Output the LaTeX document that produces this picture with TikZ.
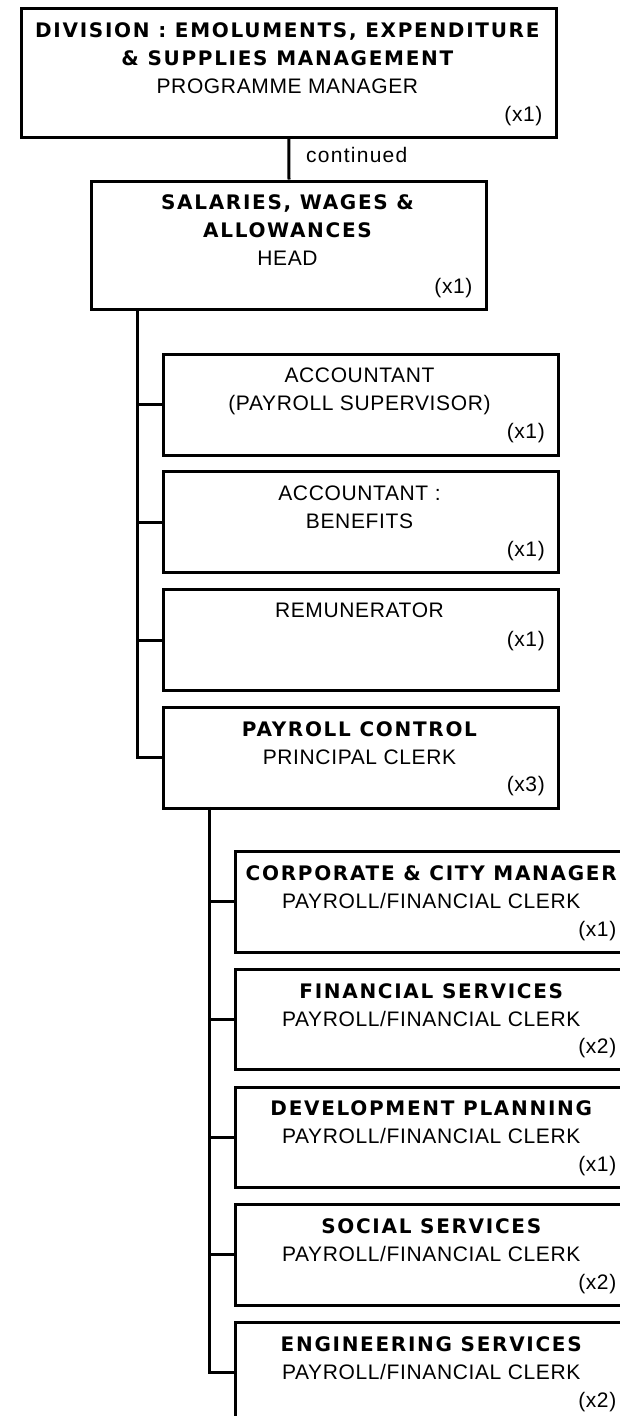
\documentclass[tikz,border=0pt]{standalone}
\usepackage{fontspec}
\setmainfont{Liberation Sans}[LetterSpace=3]
\newfontfamily\hdfont{DejaVu Sans}[LetterSpace=8.5]
\newcommand{\hd}[1]{{\fontsize{20}{28}\hdfont\bfseries #1}}
\begin{document}
\begin{tikzpicture}[x=1pt,y=-1pt,
  box/.style={draw, line width=3pt, inner sep=0pt, anchor=north west, line join=miter},
  topbox/.style={box, minimum width=534.7pt, minimum height=128.5pt},
  secbox/.style={box, minimum width=394.4pt, minimum height=128.8pt},
  ubox/.style={box, minimum width=395pt, minimum height=101pt},
  lbox/.style={box, minimum width=394.5pt, minimum height=100.3pt},
  txt/.style={inner sep=0pt, align=center, anchor=north, font=\fontsize{21}{28}\selectfont},
  cnt/.style={inner sep=0pt, anchor=base east, font=\fontsize{21}{28}\selectfont},
  conn/.style={line width=3pt, line join=miter},
]
\useasboundingbox (0,0) rectangle (620,1416);

% top
\node[topbox] (top) at (20,7.3) {};
\node[txt] (top-t) at (287.35,22.5) {\hd{DIVISION : EMOLUMENTS, EXPENDITURE}\\\hd{\& SUPPLIES MANAGEMENT}\\PROGRAMME MANAGER};
\node[cnt] (top-c) at (542.7,121.3) {(x1)};

\node[inner sep=0pt, anchor=base west, font=\fontsize{21}{28}\selectfont\addfontfeatures{LetterSpace=6}] (cont) at (306,162) {continued};

% second
\node[secbox] (sal) at (90.3,179.5) {};
\node[txt] (sal-t) at (287.5,194.8) {\hd{SALARIES, WAGES \&}\\\hd{ALLOWANCES}\\HEAD};
\node[cnt] (sal-c) at (472.7,293.5) {(x1)};

% upper column
\node[ubox] (acc1) at (162,352.7) {};
\node[txt] (acc1-t) at (359.5,367.8) {ACCOUNTANT\\(PAYROLL SUPERVISOR)};
\node[cnt] (acc1-c) at (545,438.7) {(x1)};

\node[ubox] (acc2) at (162,470.3) {};
\node[txt] (acc2-t) at (359.5,485.4) {ACCOUNTANT :\\BENEFITS};
\node[cnt] (acc2-c) at (545,556.3) {(x1)};

\node[ubox] (rem) at (162,588) {};
\node[txt] (rem-t) at (359.5,603.1) {REMUNERATOR};
\node[cnt] (rem-c) at (545,646) {(x1)};

\node[ubox] (pc) at (162,705.8) {};
\node[txt] (pc-t) at (359.5,721.1) {\hd{PAYROLL CONTROL}\\PRINCIPAL CLERK};
\node[cnt] (pc-c) at (545,791.8) {(x3)};

% lower column
\node[lbox] (corp) at (234,850.2) {};
\node[txt] (corp-t) at (431.25,865.5) {\hd{CORPORATE \& CITY MANAGER}\\PAYROLL/FINANCIAL CLERK};
\node[cnt] (corp-c) at (616.5,936.2) {(x1)};

\node[lbox] (fin) at (234,967.9) {};
\node[txt] (fin-t) at (431.25,983.2) {\hd{FINANCIAL SERVICES}\\PAYROLL/FINANCIAL CLERK};
\node[cnt] (fin-c) at (616.5,1053.9) {(x2)};

\node[lbox] (dev) at (234,1085.6) {};
\node[txt] (dev-t) at (431.25,1100.9) {\hd{DEVELOPMENT PLANNING}\\PAYROLL/FINANCIAL CLERK};
\node[cnt] (dev-c) at (616.5,1171.6) {(x1)};

\node[lbox] (soc) at (234,1203.3) {};
\node[txt] (soc-t) at (431.25,1218.6) {\hd{SOCIAL SERVICES}\\PAYROLL/FINANCIAL CLERK};
\node[cnt] (soc-c) at (616.5,1289.3) {(x2)};

\node[lbox] (eng) at (234,1321) {};
\node[txt] (eng-t) at (431.25,1336.3) {\hd{ENGINEERING SERVICES}\\PAYROLL/FINANCIAL CLERK};
\node[cnt] (eng-c) at (616.5,1407) {(x2)};

% connectors
\draw[conn] (top.south) -- (sal.north);
\coordinate (l1) at (137.7,308.3);
\draw[conn] (l1) |- (pc.west);
\foreach \n in {acc1,acc2,rem} \draw[conn] (l1 |- \n.west) -- (\n.west);
\coordinate (l2) at (209.5,806.8);
\draw[conn] (l2) |- (eng.west);
\foreach \n in {corp,fin,dev,soc} \draw[conn] (l2 |- \n.west) -- (\n.west);
\end{tikzpicture}
\end{document}
